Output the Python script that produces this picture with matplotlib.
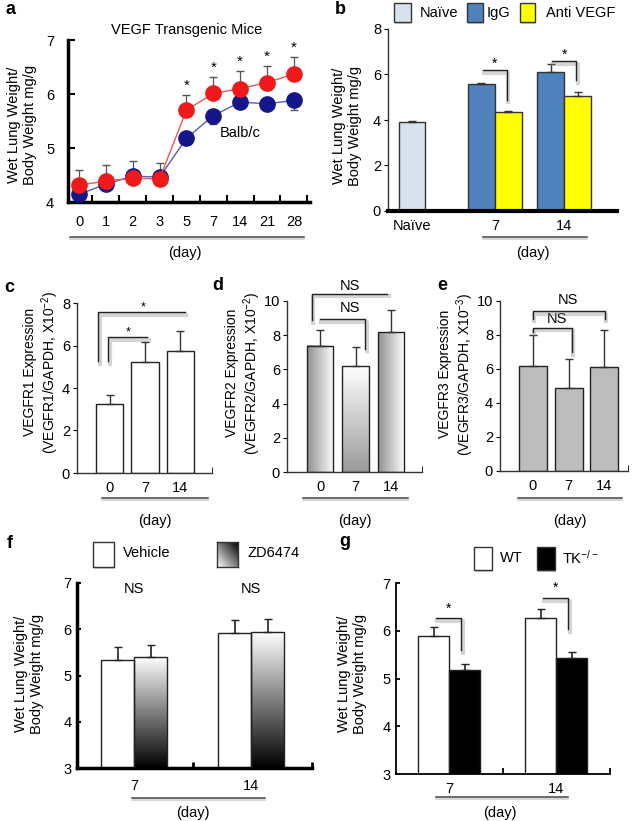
import numpy as np
import matplotlib
matplotlib.use('Agg')
import matplotlib.pyplot as plt
import matplotlib.patheffects as pe
from matplotlib.lines import Line2D
from matplotlib.patches import Rectangle
from matplotlib.colors import LinearSegmentedColormap

# ---------------- data ----------------
a_days = ['0', '1', '2', '3', '5', '7', '14', '21', '28']
a_tg = [4.31, 4.39, 4.44, 4.43, 5.70, 6.01, 6.10, 6.21, 6.37]
a_tg_err = [0.28, 0.30, 0.31, 0.30, 0.29, 0.30, 0.33, 0.30, 0.31]
a_balb = [4.14, 4.33, 4.48, 4.46, 5.18, 5.60, 5.85, 5.82, 5.88]
a_balb_err = [0.0, 0.0, 0.0, 0.0, 0.0, 0.16, 0.0, 0.12, 0.17]
a_sig = [False, False, False, False, True, True, True, True, True]

b_naive = [3.92]
b_naive_err = [0.04]
b_days = ['7', '14']
b_igg = [5.58, 6.09]
b_igg_err = [0.03, 0.37]
b_anti = [4.37, 5.05]
b_anti_err = [0.04, 0.19]

cde_days = ['0', '7', '14']
c_vals = [3.25, 5.24, 5.73]
c_err = [0.42, 0.94, 0.94]
d_vals = [7.38, 6.19, 8.16]
d_err = [0.95, 1.10, 1.30]
e_vals = [6.16, 4.91, 6.09]
e_err = [1.86, 1.67, 2.20]

fg_days = ['7', '14']
f_vehicle = [5.33, 5.91]
f_vehicle_err = [0.29, 0.29]
f_zd = [5.41, 5.94]
f_zd_err = [0.26, 0.28]
g_wt = [5.89, 6.27]
g_wt_err = [0.19, 0.19]
g_tk = [5.18, 5.43]
g_tk_err = [0.12, 0.13]

# ---------------- setup ----------------
W, H = 640, 821
plt.rcParams['font.family'] = ['Liberation Sans', 'DejaVu Sans']
plt.rcParams['mathtext.fontset'] = 'custom'
plt.rcParams['mathtext.rm'] = 'Liberation Sans'
plt.rcParams['mathtext.it'] = 'Liberation Sans:italic'
plt.rcParams['mathtext.bf'] = 'Liberation Sans:bold'
plt.rcParams['font.size'] = 10

fig = plt.figure(figsize=(6.4, 8.21), dpi=100)
fig.patch.set_facecolor('white')

shadow = [pe.SimpleLineShadow(offset=(1, -2), shadow_color='#888888', alpha=0.35, linewidth=3), pe.Normal()]


def add_ax(l, t, r, b):
    return fig.add_axes([l / W, 1 - b / H, (r - l) / W, (b - t) / H])


def ftext(x, y, s, **kw):
    kw.setdefault('ha', 'center')
    kw.setdefault('va', 'center')
    fig.text(x / W, 1 - y / H, s, **kw)


def fline(x0, x1, y, color='#444444', lw=1.1):
    fig.add_artist(Line2D([x0 / W, x1 / W], [1 - y / H, 1 - y / H], color=color, lw=lw,
                          path_effects=[pe.SimpleLineShadow(offset=(0, -1.5), shadow_color='#999999', alpha=0.5), pe.Normal()]))


def fbox(x0, y0, x1, y1, fc, ec='#333333'):
    r = Rectangle((x0 / W, 1 - y1 / H), (x1 - x0) / W, (y1 - y0) / H, transform=fig.transFigure,
                  facecolor=fc, edgecolor=ec, lw=1.0,
                  path_effects=[pe.withSimplePatchShadow(offset=(1, -1.5), alpha=0.25)])
    fig.add_artist(r)


def grad_fill(ax, patch, direction, c0, c1):
    # call after limits are set; gradient spans the visible part of the bar
    x0, y0 = patch.get_x(), patch.get_y()
    w, h = patch.get_width(), patch.get_height()
    ylo = max(y0, ax.get_ylim()[0])
    t = np.linspace(0, 1, 256)
    img = t[None, :] if direction == 'h' else t[:, None]
    cmap = LinearSegmentedColormap.from_list('g', [c0, c1])
    xl, yl = ax.get_xlim(), ax.get_ylim()
    ax.imshow(img, extent=[x0, x0 + w, ylo, y0 + h], origin='lower', cmap=cmap,
              aspect='auto', vmin=0, vmax=1, zorder=1.5, interpolation='bilinear')
    ax.set_xlim(xl)
    ax.set_ylim(yl)


def bracket(ax, xs, ys, color='#222222'):
    ax.plot(xs, ys, color=color, lw=1.0, clip_on=False, path_effects=shadow, zorder=5)


def style_thin(ax):
    for s in ['top', 'right']:
        ax.spines[s].set_visible(False)
    ax.spines['left'].set_linewidth(1.0)
    ax.spines['bottom'].set_linewidth(1.0)
    ax.spines['left'].set_color('#333333')
    ax.spines['bottom'].set_color('#333333')


# ================= panel a =================
ax = add_ax(68, 40, 310, 202)
xa = np.arange(len(a_days))
ax.plot(xa, a_balb, color='#5a5ab8', lw=1.0, zorder=2)
ax.errorbar(xa, a_balb, yerr=[a_balb_err, np.zeros(len(xa))], fmt='none', ecolor='#555555',
            elinewidth=0.9, capsize=3, zorder=1)
ax.plot(xa, a_balb, 'o', color='#15168a', ms=11, zorder=3)
ax.plot(xa, a_tg, color='#ee5555', lw=1.0, zorder=4)
ax.errorbar(xa, a_tg, yerr=[np.zeros(len(xa)), a_tg_err], fmt='none', ecolor='#555555',
            elinewidth=0.9, capsize=3, zorder=1)
ax.plot(xa, a_tg, 'o', color='#ee1a1a', ms=11, zorder=5)
for i in range(len(xa)):
    if a_sig[i]:
        ax.text(xa[i], a_tg[i] + a_tg_err[i] + 0.17, '*', ha='center', va='center', fontsize=11)
ax.text(6.0, 5.28, 'Balb/c', ha='center', va='center', fontsize=10.5)
ax.set_xlim(-0.41, 8.6)
ax.set_ylim(4, 7)
ax.set_xticks(xa)
ax.set_xticklabels(a_days)
ax.set_xticks(xa + 0.5, minor=True)
ax.set_yticks([4, 5, 6, 7])
ax.tick_params(axis='x', which='major', length=0, pad=9, labelsize=10.5)
ax.tick_params(axis='x', which='minor', direction='in', length=5, width=1.5)
ax.tick_params(axis='y', direction='in', length=5, width=1.5, pad=10, labelsize=10.5)
for s in ['top', 'right']:
    ax.spines[s].set_visible(False)
ax.spines['left'].set_linewidth(2.5)
ax.spines['bottom'].set_linewidth(2.5)
ax.patch.set_alpha(0)
ftext(187, 30, 'VEGF Transgenic Mice', fontsize=10.5)
ftext(22, 125, 'Wet Lung Weight/\nBody Weight mg/g', rotation=90, fontsize=10.5, linespacing=1.1)
fline(70, 304, 237)
ftext(185, 253, '(day)', fontsize=10.5)
ftext(10, 10, 'a', fontsize=13, fontweight='bold')

# ================= panel b =================
ax = add_ax(388, 29, 617, 211)
b_pos = np.array([3.07, 5.64])
ax.bar([0], b_naive, width=1.0, color='#d7e2ef', edgecolor='#333333', lw=1.0, zorder=2)
ax.bar(b_pos - 0.5, b_igg, width=1.0, color='#4f81bd', edgecolor='#333333', lw=1.0, zorder=2)
ax.bar(b_pos + 0.5, b_anti, width=1.0, color='#ffff00', edgecolor='#333333', lw=1.0, zorder=2)
ax.errorbar([0], b_naive, yerr=[[0], b_naive_err], fmt='none', ecolor='#333333', elinewidth=1, capsize=3, zorder=3)
ax.errorbar(b_pos - 0.5, b_igg, yerr=[[0, 0], b_igg_err], fmt='none', ecolor='#333333', elinewidth=1, capsize=3, zorder=3)
ax.errorbar(b_pos + 0.5, b_anti, yerr=[[0, 0], b_anti_err], fmt='none', ecolor='#333333', elinewidth=1, capsize=3, zorder=3)
b_sig_y = [6.21, 6.60]
b_sig_drop = [4.90, 5.77]
for i in range(2):
    x0 = b_pos[i] - 0.45
    x1 = b_pos[i] + 0.45
    bracket(ax, [x0, x1, x1], [b_sig_y[i], b_sig_y[i], b_sig_drop[i]])
    ax.text((x0 + x1) / 2, b_sig_y[i] + 0.27, '*', ha='center', va='center', fontsize=10)
ax.set_xlim(-0.89, 7.6)
ax.set_ylim(0, 8)
ax.set_xticks([0, b_pos[0], b_pos[1]])
ax.set_xticklabels(['Naïve'] + b_days)
ax.set_yticks([0, 2, 4, 6, 8])
ax.tick_params(axis='x', length=0, pad=6, labelsize=10.5)
ax.tick_params(axis='y', direction='out', length=3, pad=2, labelsize=10.5)
for s in ['top', 'right']:
    ax.spines[s].set_visible(False)
ax.spines['left'].set_linewidth(1.0)
ax.spines['left'].set_color('#333333')
ax.spines['bottom'].set_linewidth(3)
ax.spines['bottom'].set_zorder(4)
ftext(347, 126, 'Wet Lung Weight/\nBody Weight mg/g', rotation=90, fontsize=10.5, linespacing=1.1)
fline(483, 587, 237)
ftext(533, 253, '(day)', fontsize=10.5)
ftext(340, 9, 'b', fontsize=13, fontweight='bold')
fbox(394, 3, 411, 22, '#d7e2ef')
ftext(420, 13, 'Naïve', ha='left', fontsize=10.5)
fbox(467, 3, 483, 22, '#4f81bd')
ftext(487, 13, 'IgG', ha='left', fontsize=10.5)
fbox(520, 3, 535, 22, '#ffff00')
ftext(546, 13, 'Anti VEGF', ha='left', fontsize=10.5)

# ================= panel c =================
ax = add_ax(77, 303, 212, 473)
xc = np.arange(3)
ax.bar(xc, c_vals, width=0.78, color='white', edgecolor='#222222', lw=1.0, zorder=2)
ax.errorbar(xc, c_vals, yerr=[np.zeros(3), c_err], fmt='none', ecolor='#333333', elinewidth=1, capsize=3, zorder=3)
bracket(ax, [-0.32, -0.32, 2.13], [5.25, 7.58, 7.58])
ax.text(0.94, 7.8, '*', ha='center', va='center', fontsize=9)
bracket(ax, [-0.04, -0.04, 1.06], [5.25, 6.4, 6.4])
ax.text(0.52, 6.6, '*', ha='center', va='center', fontsize=9)
ax.set_xlim(-0.92, 2.89)
ax.set_ylim(0, 8)
ax.set_xticks(xc)
ax.set_xticklabels(cde_days)
ax.set_xticks([2.89], minor=True)
ax.set_yticks([0, 2, 4, 6, 8])
ax.tick_params(axis='x', which='major', length=0, pad=6, labelsize=10.5)
ax.tick_params(axis='x', which='minor', direction='in', length=4)
ax.tick_params(axis='y', direction='out', length=3, pad=2, labelsize=10.5)
style_thin(ax)
ftext(42, 372, 'VEGFR1 Expression\n(VEGFR1/GAPDH, X10$^{-2}$)', rotation=90, fontsize=10, linespacing=1.1)
fline(102, 208, 498)
ftext(155, 521, '(day)', fontsize=10.5)
ftext(9, 287, 'c', fontsize=13, fontweight='bold')

# ================= panel d =================
ax = add_ax(287, 301, 422, 472)
xd = np.arange(3)
bars = ax.bar(xd, d_vals, width=0.75, facecolor='none', edgecolor='#222222', lw=1.0, zorder=2)
ax.errorbar(xd, d_vals, yerr=[np.zeros(3), d_err], fmt='none', ecolor='#333333', elinewidth=1, capsize=3, zorder=3)
bracket(ax, [-0.23, -0.23, 1.89], [8.87, 10.43, 10.43])
ax.text(0.85, 10.85, 'NS', ha='center', va='center', fontsize=10.5)
bracket(ax, [0.0, 1.27, 1.27], [8.93, 8.93, 7.22])
ax.text(0.85, 9.6, 'NS', ha='center', va='center', fontsize=10.5)
ax.set_xlim(-0.93, 2.87)
ax.set_ylim(0, 10)
grad_fill(ax, bars[0], 'h', '#8f8f8f', '#ffffff')
grad_fill(ax, bars[1], 'v', '#9a9a9a', '#ffffff')
grad_fill(ax, bars[2], 'h', '#8f8f8f', '#ffffff')
ax.set_xticks(xd)
ax.set_xticklabels(cde_days)
ax.set_xticks([2.87], minor=True)
ax.set_yticks([0, 2, 4, 6, 8, 10])
ax.tick_params(axis='x', which='major', length=0, pad=6, labelsize=10.5)
ax.tick_params(axis='x', which='minor', direction='in', length=4)
ax.tick_params(axis='y', direction='out', length=3, pad=2, labelsize=10.5)
style_thin(ax)
ftext(244, 373, 'VEGFR2 Expression\n(VEGFR2/GAPDH, X10$^{-2}$)', rotation=90, fontsize=10, linespacing=1.1)
fline(303, 408, 498)
ftext(355, 521, '(day)', fontsize=10.5)
ftext(218, 285, 'd', fontsize=13, fontweight='bold')

# ================= panel e =================
ax = add_ax(500, 301, 628, 471)
xe = np.arange(3)
ax.bar(xe, e_vals, width=0.78, color='#bdbdbd', edgecolor='#222222', lw=1.0, zorder=2)
ax.errorbar(xe, e_vals, yerr=[np.zeros(3), e_err], fmt='none', ecolor='#333333', elinewidth=1, capsize=3, zorder=3)
bracket(ax, [0.0, 0.0, 2.01, 2.01], [8.96, 9.41, 9.41, 8.96])
ax.text(0.98, 10.05, 'NS', ha='center', va='center', fontsize=10.5)
bracket(ax, [0.0, 0.0, 1.09, 1.09], [8.2, 8.43, 8.43, 7.0])
ax.text(0.67, 8.95, 'NS', ha='center', va='center', fontsize=10.5)
ax.set_xlim(-0.92, 2.66)
ax.set_ylim(0, 10)
ax.set_xticks(xe)
ax.set_xticklabels(cde_days)
ax.set_xticks([2.66], minor=True)
ax.set_yticks([0, 2, 4, 6, 8, 10])
ax.tick_params(axis='x', which='major', length=0, pad=6, labelsize=10.5)
ax.tick_params(axis='x', which='minor', direction='in', length=4)
ax.tick_params(axis='y', direction='out', length=3, pad=2, labelsize=10.5)
style_thin(ax)
ftext(457, 374, 'VEGFR3 Expression\n(VEGFR3/GAPDH, X10$^{-3}$)', rotation=90, fontsize=10, linespacing=1.1)
fline(518, 622, 498)
ftext(570, 521, '(day)', fontsize=10.5)
ftext(442, 285, 'e', fontsize=13, fontweight='bold')

# ================= panel f =================
ax = add_ax(77, 583, 312, 768)
f_pos = np.array([0.0, 3.55])
ax.bar(f_pos - 0.5, f_vehicle, width=1.0, bottom=0, color='white', edgecolor='#222222', lw=1.0, zorder=2)
zb = ax.bar(f_pos + 0.5, f_zd, width=1.0, bottom=0, facecolor='none', edgecolor='#222222', lw=1.0, zorder=2)
ax.errorbar(f_pos - 0.5, f_vehicle, yerr=[[0, 0], f_vehicle_err], fmt='none', ecolor='#222222', elinewidth=1.2, capsize=3, zorder=3)
ax.errorbar(f_pos + 0.5, f_zd, yerr=[[0, 0], f_zd_err], fmt='none', ecolor='#222222', elinewidth=1.2, capsize=3, zorder=3)
for p in f_pos:
    ax.text(p, 6.88, 'NS', ha='center', va='center', fontsize=10.5)
ax.set_xlim(-1.73, 5.39)
ax.set_ylim(3, 7)
for p in zb:
    grad_fill(ax, p, 'v', '#000000', '#ffffff')
ax.set_xticks(f_pos)
ax.set_xticklabels(fg_days)
ax.set_xticks([1.79, 5.39], minor=True)
ax.set_yticks([3, 4, 5, 6, 7])
ax.tick_params(axis='x', which='major', length=0, pad=8, labelsize=10.5)
ax.tick_params(axis='x', which='minor', direction='in', length=4, width=2)
ax.tick_params(axis='y', direction='in', length=3, width=1.5, pad=4, labelsize=10.5)
for s in ['top', 'right']:
    ax.spines[s].set_visible(False)
ax.spines['left'].set_linewidth(2.5)
ax.spines['bottom'].set_linewidth(2.5)
ax.spines['bottom'].set_zorder(4)
ftext(29, 674, 'Wet Lung Weight/\nBody Weight mg/g', rotation=90, fontsize=10.5, linespacing=1.1)
fline(132, 265, 798)
ftext(193, 813, '(day)', fontsize=10.5)
ftext(10, 543, 'f', fontsize=13, fontweight='bold')
fbox(93, 542, 114, 567, 'white')
ftext(123, 553, 'Vehicle', ha='left', fontsize=10.5)
lax = add_ax(217, 542, 238, 567)
tt = np.linspace(0, 1, 64)
diag = (tt[None, :] + (1 - tt[:, None])) / 2
lax.imshow(diag, cmap=LinearSegmentedColormap.from_list('g2', ['#ffffff', '#000000']), aspect='auto',
           origin='upper', vmin=0, vmax=1, interpolation='bilinear')
lax.set_xticks([])
lax.set_yticks([])
for s in lax.spines.values():
    s.set_linewidth(1.0)
    s.set_color('#333333')
ftext(247, 553, 'ZD6474', ha='left', fontsize=10.5)

# ================= panel g =================
ax = add_ax(396, 583, 610, 774)
g_pos = np.array([0.0, 3.45])
ax.bar(g_pos - 0.5, g_wt, width=1.0, bottom=0, color='white', edgecolor='#222222', lw=1.0, zorder=2)
ax.bar(g_pos + 0.5, g_tk, width=1.0, bottom=0, color='black', edgecolor='#222222', lw=1.0, zorder=2)
ax.errorbar(g_pos - 0.5, g_wt, yerr=[[0, 0], g_wt_err], fmt='none', ecolor='#222222', elinewidth=1.2, capsize=3, zorder=3)
ax.errorbar(g_pos + 0.5, g_tk, yerr=[[0, 0], g_tk_err], fmt='none', ecolor='#222222', elinewidth=1.2, capsize=3, zorder=3)
g_sig_y = [6.26, 6.69]
g_sig_drop = [5.59, 6.03]
for i in range(2):
    x0 = g_pos[i] - 0.42
    x1 = g_pos[i] + 0.40
    bracket(ax, [x0, x1, x1], [g_sig_y[i], g_sig_y[i], g_sig_drop[i]])
    ax.text((x0 + x1) / 2, g_sig_y[i] + 0.2, '*', ha='center', va='center', fontsize=10)
ax.set_xlim(-1.71, 5.19)
ax.set_ylim(3, 7)
ax.set_xticks(g_pos)
ax.set_xticklabels(fg_days)
ax.set_xticks([1.74, 5.19], minor=True)
ax.set_yticks([3, 4, 5, 6, 7])
ax.tick_params(axis='x', which='major', length=0, pad=6, labelsize=10.5)
ax.tick_params(axis='x', which='minor', direction='in', length=4, width=1.3)
ax.tick_params(axis='y', direction='in', length=3, width=1.3, pad=4, labelsize=10.5)
for s in ['top', 'right']:
    ax.spines[s].set_visible(False)
ax.spines['left'].set_linewidth(1.3)
ax.spines['bottom'].set_linewidth(1.3)
ftext(352, 674, 'Wet Lung Weight/\nBody Weight mg/g', rotation=90, fontsize=10.5, linespacing=1.1)
fline(436, 568, 797)
ftext(500, 813, '(day)', fontsize=10.5)
ftext(345, 542, 'g', fontsize=13, fontweight='bold')
fbox(474, 547, 492, 570, 'white')
ftext(500, 558, 'WT', ha='left', fontsize=10.5)
fbox(537, 547, 555, 570, 'black')
ftext(562, 558, 'TK$^{-/-}$', ha='left', fontsize=10.5)

fig.savefig('out.png', dpi=100)
